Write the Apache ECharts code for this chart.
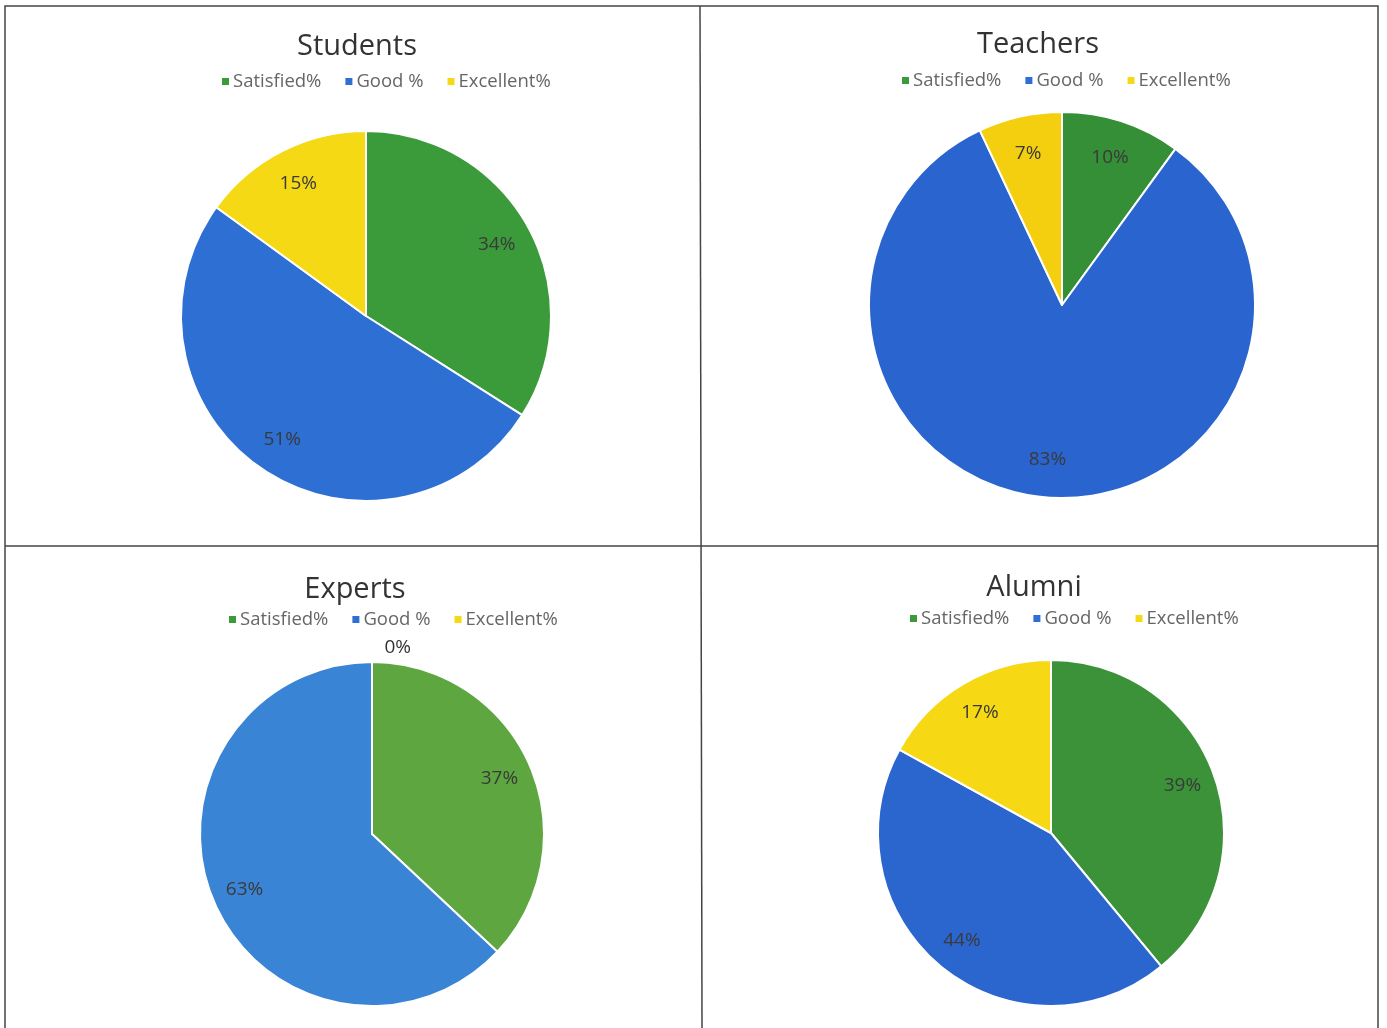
<!DOCTYPE html>
<html>
<head>
<meta charset="utf-8">
<title>Feedback pies</title>
<script src="https://cdn.jsdelivr.net/npm/echarts@6/dist/echarts.min.js"></script>
<style>
  html, body { margin: 0; padding: 0; background: #fff; }
  #main { width: 1387px; height: 1028px; }
</style>
</head>
<body>
<div id="main"></div>
<script>
// categories shared by all four pies
var categories = ['Satisfied%', 'Good %', 'Excellent%'];

var students = [34, 51, 15];
var teachers = [10, 83, 7];
var experts  = [37, 63, 0];
var alumni   = [39, 44, 17];

var panelNames = ['Students', 'Teachers', 'Experts', 'Alumni'];
var panelValues = [students, teachers, experts, alumni];

// layout of each panel: title pos, legend start, pie centre + radius
var panels = [
  { tx: 357,  ty: 27,  lx: 215, ly: 67,  cx: 366,  cy: 316, r: 185, colors: ['#3b9a39', '#2d6fd3', '#f6d915'] },
  { tx: 1038, ty: 25,  lx: 895, ly: 66,  cx: 1062, cy: 305, r: 193, colors: ['#358f37', '#2a64cf', '#f4cf10'] },
  { tx: 355,  ty: 570, lx: 222, ly: 605, cx: 372,  cy: 834, r: 172, colors: ['#5ea63f', '#3a84d6', '#f6e020'] },
  { tx: 1034, ty: 568, lx: 903, ly: 604, cx: 1051, cy: 833, r: 173, colors: ['#3b9238', '#2b66cf', '#f6d815'] }
];

var chart = echarts.init(document.getElementById('main'));

var titles = [], legends = [], series = [];

panels.forEach(function (p, i) {
  var vals = panelValues[i];
  titles.push({
    text: panelNames[i],
    left: p.tx - 5,
    top: p.ty,
    textAlign: 'center',
    textStyle: { fontFamily: 'Open Sans', fontSize: 29, fontWeight: 'normal', color: '#333' }
  });
  legends.push({
    data: categories,
    left: p.lx,
    top: p.ly,
    icon: 'rect',
    itemWidth: 9,
    itemHeight: 9,
    itemGap: 22,
    selectedMode: false,
    textStyle: { fontFamily: 'Open Sans', fontSize: 18.5, color: '#666', padding: [0, 0, 0, -2] }
  });
  // filled pie
  series.push({
    type: 'pie',
    center: [p.cx, p.cy],
    radius: [0, p.r],
    startAngle: 90,
    clockwise: true,
    silent: true,
    label: { show: false },
    labelLine: { show: false },
    itemStyle: { borderColor: '#fff', borderWidth: 2 },
    data: vals.map(function (v, k) {
      return { name: categories[k], value: v, itemStyle: { color: p.colors[k] } };
    })
  });
  // transparent ring carrying the labels nearer the rim
  series.push({
    type: 'pie',
    center: [p.cx, p.cy],
    radius: [p.r * 0.58, p.r],
    startAngle: 90,
    clockwise: true,
    silent: true,
    legendHoverLink: false,
    itemStyle: { color: 'rgba(0,0,0,0)', borderWidth: 0 },
    label: {
      show: true,
      position: 'inside',
      formatter: '{c}%',
      fontFamily: 'Open Sans',
      fontSize: 19,
      color: '#3a3a3a'
    },
    labelLine: { show: false, length: 10, length2: 0 },
    data: vals.map(function (v, k) {
      var d = { name: categories[k], value: v };
      if (v === 0) {
        d.label = { position: 'outside', color: '#333', fontSize: 19, offset: [44, -4] };
      }
      return d;
    })
  });
});

chart.setOption({
  backgroundColor: '#fff',
  animation: false,
  title: titles,
  legend: legends,
  series: series,
  graphic: [
    { type: 'rect', shape: { x: 5, y: 6, width: 1373, height: 1030 }, style: { fill: 'none', stroke: '#444', lineWidth: 1.5 } },
    { type: 'line', shape: { x1: 5, y1: 546, x2: 1378, y2: 546 }, style: { stroke: '#444', lineWidth: 1.5 } },
    { type: 'line', shape: { x1: 700, y1: 6, x2: 702, y2: 1028 }, style: { stroke: '#444', lineWidth: 1.5 } }
  ]
});
</script>
</body>
</html>
